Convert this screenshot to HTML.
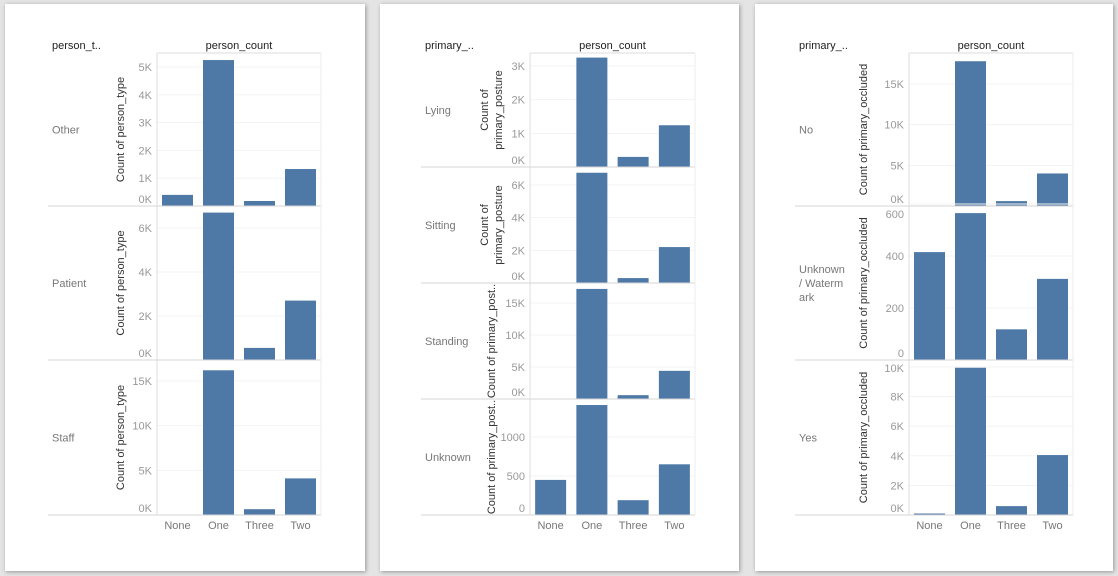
<!DOCTYPE html>
<html><head><meta charset="utf-8"><style>
body{margin:0;background:#e4e4e4;width:1118px;height:576px;overflow:hidden;font-family:"Liberation Sans",sans-serif}
svg{position:absolute;left:0;top:0}
</style></head><body>
<svg id="c" width="1118" height="576"></svg>
<script>
const categories=["None","One","Three","Two"];
const p1Rows=["Other","Patient","Staff"];
const p1Other=[400,5250,180,1330];
const p1OtherTicks=[0,1000,2000,3000,4000,5000],p1OtherLabels=["0K","1K","2K","3K","4K","5K"];
const p1Patient=[0,6700,550,2700];
const p1PatientTicks=[0,2000,4000,6000],p1PatientLabels=["0K","2K","4K","6K"];
const p1Staff=[0,16200,650,4100];
const p1StaffTicks=[0,5000,10000,15000],p1StaffLabels=["0K","5K","10K","15K"];
const p2Rows=["Lying","Sitting","Standing","Unknown"];
const p2Lying=[0,3250,300,1240];
const p2LyingTicks=[0,1000,2000,3000],p2LyingLabels=["0K","1K","2K","3K"];
const p2Sitting=[0,6750,300,2200];
const p2SittingTicks=[0,2000,4000,6000],p2SittingLabels=["0K","2K","4K","6K"];
const p2Standing=[0,17200,600,4400];
const p2StandingTicks=[0,5000,10000,15000],p2StandingLabels=["0K","5K","10K","15K"];
const p2Unknown=[450,1410,190,650];
const p2UnknownTicks=[0,500,1000],p2UnknownLabels=["0","500","1000"];
const p3Rows=["No","Unknown / Waterm ark","Yes"];
const p3No=[0,17800,600,4000];
const p3NoTicks=[0,5000,10000,15000],p3NoLabels=["0K","5K","10K","15K"];
const p3Unk=[415,565,118,312];
const p3UnkTicks=[0,200,400,600],p3UnkLabels=["0","200","400","600"];
const p3Yes=[100,9950,600,4050];
const p3YesTicks=[0,2000,4000,6000,8000,10000],p3YesLabels=["0K","2K","4K","6K","8K","10K"];

const NS="http://www.w3.org/2000/svg",svg=document.getElementById('c');
function mk(t,a,txt,parent){const e=document.createElementNS(NS,t);for(const k in a)e.setAttribute(k,a[k]);if(txt!==undefined)e.textContent=txt;(parent||svg).appendChild(e);return e;}

const panels=[
 {card:[5,4,360,567],lineL:48,plotL:157,plotR:321,tickX:152,titleX:120,hdr:"person_t..",rows:p1Rows,
  data:[[p1Other,p1OtherTicks,p1OtherLabels,[53,206]],[p1Patient,p1PatientTicks,p1PatientLabels,[206,360]],[p1Staff,p1StaffTicks,p1StaffLabels,[360,515]]],
  scales:[[206,67,5000],[361,229,6000],[515,381,15000]],titles:[["Count of person_type"],["Count of person_type"],["Count of person_type"]]},
 {card:[380,4,359,567],lineL:421,plotL:530,plotR:695,tickX:525,titleX:491,hdr:"primary_..",rows:p2Rows,
  data:[[p2Lying,p2LyingTicks,p2LyingLabels,[53,167]],[p2Sitting,p2SittingTicks,p2SittingLabels,[167,283]],[p2Standing,p2StandingTicks,p2StandingLabels,[283,399]],[p2Unknown,p2UnknownTicks,p2UnknownLabels,[399,515]]],
  scales:[[167,66,3000],[283,185,6000],[399,303,15000],[515,437,1000]],
  titles:[["Count of","primary_posture"],["Count of","primary_posture"],["Count of primary_post.."],["Count of primary_post.."]]},
 {card:[755,4,358,567],lineL:795,plotL:909,plotR:1073,tickX:904,titleX:863,hdr:"primary_..",rows:p3Rows,
  data:[[p3No,p3NoTicks,p3NoLabels,[53,206]],[p3Unk,p3UnkTicks,p3UnkLabels,[206,360]],[p3Yes,p3YesTicks,p3YesLabels,[360,515]]],
  scales:[[206,84,15000],[361,257,400],[515,367,10000]],
  titles:[["Count of primary_occluded"],["Count of primary_occluded"],["Count of primary_occluded"]]}
];
const defs=mk('defs',{});
const f=mk('filter',{id:'sh',x:'-5%',y:'-5%',width:'110%',height:'110%'},undefined,defs);
mk('feDropShadow',{dx:1,dy:1,stdDeviation:2,'flood-color':'#000','flood-opacity':0.35},undefined,f);

panels.forEach((P,pi)=>{
  const g=mk('g',{});
  
  
  const card=mk('rect',{x:P.card[0],y:P.card[1],width:P.card[2],height:P.card[3],fill:'#fff',filter:'url(#sh)'},undefined,g);
  
  const h=mk('text',{x:P.lineL+4,y:49,'font-size':11,fill:'#222'},P.hdr,g);
  
  const ch=mk('text',{x:(P.plotL+P.plotR)/2,y:49,'font-size':11,fill:'#222','text-anchor':'middle'},'person_count',g);
  
  mk('line',{x1:P.plotL,x2:P.plotR,y1:53,y2:53,stroke:'#ddd'},undefined,g);
  const band=(P.plotR-P.plotL)/categories.length;
  P.data.forEach((R,ri)=>{
    const [vals,ticks,labels,[top,bot]]=R;
    const [y0,yRef,vRef]=P.scales[ri];
    const k=(y0-yRef)/vRef;
    const ys=v=>bot-(v*k);
    const rg=mk('g',{},undefined,g);
    
    
    ticks.forEach((t,i)=>{
      const y=ys(t);
      if(t>0){const gl=mk('line',{x1:P.plotL,x2:P.plotR,y1:y,y2:y,stroke:'#f3f3f3'},undefined,rg);
        }
      const ly=Math.min(Math.max(y,top+8),bot-7);
      const tl=mk('text',{x:P.tickX,y:ly+4,'font-size':11,fill:'#999','text-anchor':'end'},labels[i],rg);
      
    });
    vals.forEach((v,i)=>{
      if(v<=0) return;
      const y=ys(v);const x=P.plotL+band*i+band/2-15.5;
      const b=mk('rect',{x:x,y:y,width:31,height:Math.max(bot-y,1),fill:'#4e79a7'},undefined,rg);
      
      
    });
    mk('line',{x1:P.lineL,x2:P.plotR,y1:bot,y2:bot,stroke:'#d4d4d4'},undefined,rg);
    const words=P.rows[ri].split(' ');
    let lines=[P.rows[ri]];
    if(words.length>2){lines=[words[0],words[1]+' '+words[2],words[3]];}
    const mid=(top+bot)/2;
    lines.forEach((ln,li)=>{
      const t=mk('text',{x:P.lineL+4,y:mid+4+(li-(lines.length-1)/2)*14,'font-size':11,fill:'#777'},ln,rg);
      
    });
    const tl=P.titles[ri];
    tl.forEach((ln,li)=>{
      const x=P.titleX+(li-(tl.length-1)/2)*14+4;
      const t=mk('text',{x:x,y:mid,'font-size':11,fill:'#333','text-anchor':'middle',transform:`rotate(-90 ${x} ${mid})`},ln,rg);
      
    });
  });
  mk('line',{x1:P.plotL,x2:P.plotL,y1:53,y2:515,stroke:'#ddd'},undefined,g);
  mk('line',{x1:P.plotR,x2:P.plotR,y1:53,y2:515,stroke:'#eee'},undefined,g);
  categories.forEach((c,i)=>{
    const t=mk('text',{x:P.plotL+band*i+band/2,y:529,'font-size':11,fill:'#777','text-anchor':'middle'},c,g);
    
  });
});
</script>
</body></html>
